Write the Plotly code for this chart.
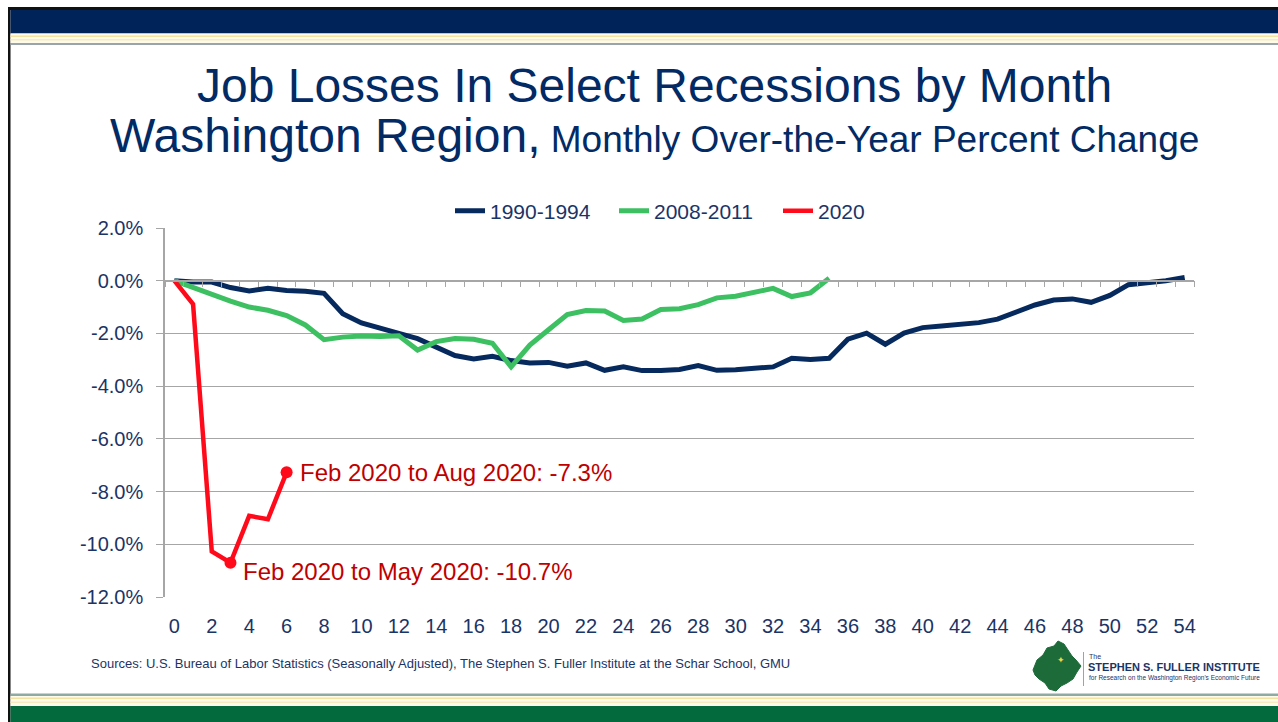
import plotly.graph_objects as go

# ---------------- data ----------------
months = list(range(0, 55))
s1990 = [0.00, -0.05, -0.05, -0.26, -0.39, -0.29, -0.37, -0.40, -0.48, -1.25,
         -1.60, -1.82, -2.00, -2.20, -2.51, -2.84, -2.97, -2.87, -3.03, -3.12,
         -3.10, -3.24, -3.12, -3.40, -3.27, -3.41, -3.41, -3.37, -3.22, -3.40,
         -3.38, -3.32, -3.27, -2.94, -2.99, -2.94, -2.22, -1.99, -2.41, -1.99,
         -1.78, -1.72, -1.65, -1.59, -1.46, -1.18, -0.92, -0.73, -0.69, -0.82,
         -0.56, -0.15, -0.08, 0.00, 0.12]
s2008 = [0.00, -0.26, -0.55, -0.77, -1.00, -1.12, -1.32, -1.68, -2.24, -2.14,
         -2.10, -2.12, -2.09, -2.63, -2.31, -2.19, -2.22, -2.37, -3.27, -2.44,
         -1.86, -1.28, -1.13, -1.15, -1.51, -1.45, -1.09, -1.06, -0.91, -0.65,
         -0.59, -0.46, -0.29, -0.60, -0.46, 0.09]
s2020 = [0.00, -0.89, -10.27, -10.70, -8.92, -9.05, -7.27]
series_names = ["1990-1994", "2008-2011", "2020"]
highlight_idx = [3, 6]
notes = {3: "Feb 2020 to May 2020: -10.7%", 6: "Feb 2020 to Aug 2020: -7.3%"}

ytick_vals = [-12, -10, -8, -6, -4, -2, 0, 2]
ytick_text = ["-12.0%", "-10.0%", "-8.0%", "-6.0%", "-4.0%", "-2.0%", "0.0%", "2.0%"]
xtick_vals = list(range(0, 55, 2))

# ---------------- styling ----------------
W, H = 1278, 722
L, R, T, B = 165, 1194, 228, 597
NAVY_TXT = "#1B3466"
TITLE = "#022A64"
NAVY = "#06295E"
GREEN = "#3CC062"
RED = "#FF0A1A"
DARKRED = "#C00000"
GRID = "#A6A6A6"
FONT = "Arial, Liberation Sans, sans-serif"

def px(x):
    return (x - L) / (R - L)

def py(y):
    return (B - y) / (B - T)

fig = go.Figure()
fig.add_trace(go.Scatter(x=months[:len(s1990)], y=s1990, name=series_names[0], mode="lines",
                         line=dict(color=NAVY, width=5)))
fig.add_trace(go.Scatter(x=months[:len(s2008)], y=s2008, name=series_names[1], mode="lines",
                         line=dict(color=GREEN, width=5)))
fig.add_trace(go.Scatter(x=months[:len(s2020)], y=s2020, name=series_names[2], mode="lines",
                         line=dict(color=RED, width=4.5)))
fig.add_trace(go.Scatter(x=[months[i] for i in highlight_idx], y=[s2020[i] for i in highlight_idx],
                         mode="markers", marker=dict(color=RED, size=12), showlegend=False))
# helper trace for the axis drawn at zero
fig.add_trace(go.Scatter(x=[], y=[], xaxis="x2", showlegend=False, hoverinfo="skip"))

for i, txt in notes.items():
    fig.add_annotation(x=months[i], y=s2020[i], text=txt, showarrow=False, xanchor="left",
                       yanchor="middle", xshift=11, yshift=(-9 if i == 3 else 0),
                       font=dict(size=24, color=DARKRED, family=FONT))

ymin, ymax = -12, 2
fig.update_layout(
    width=W, height=H,
    margin=dict(l=L, r=W - R, t=T, b=H - B, pad=0),
    paper_bgcolor="white", plot_bgcolor="white",
    font=dict(family=FONT, color=NAVY_TXT, size=20),
    showlegend=True,
    legend=dict(orientation="h", x=px(696), xanchor="center", y=py(211), yanchor="middle",
                font=dict(size=21, color=NAVY_TXT), bgcolor="rgba(0,0,0,0)",
                itemwidth=30, entrywidth=119, tracegroupgap=0),
    xaxis=dict(range=[-0.5, 54.5], tickvals=xtick_vals, showgrid=False, zeroline=False,
               showline=False, ticks="outside", ticklen=11, tickcolor="rgba(0,0,0,0)",
               tickfont=dict(size=20, color=NAVY_TXT), fixedrange=True),
    xaxis2=dict(range=[-0.5, 54.5], overlaying="x", anchor="free",
                position=(0 - ymin) / (ymax - ymin),
                tickvals=[k - 0.5 for k in range(0, 56)], ticks="outside", ticklen=6,
                tickcolor=GRID, showline=True, linecolor=GRID, linewidth=1.5,
                showticklabels=False, showgrid=False, zeroline=False),
    yaxis=dict(range=[ymin, ymax], tickvals=ytick_vals, ticktext=ytick_text,
               showgrid=True, gridcolor=GRID, gridwidth=1.2, zeroline=False,
               showline=True, linecolor=GRID, linewidth=1.5, ticks="outside", ticklen=7,
               tickcolor=GRID, ticklabelstandoff=9,
               tickfont=dict(size=20, color=NAVY_TXT)),
)

# ---------------- slide frame ----------------
shapes = []
def rect(x0, y0, x1, y1, color):
    shapes.append(dict(type="rect", xref="paper", yref="paper", x0=px(x0), x1=px(x1),
                       y0=py(y1), y1=py(y0), fillcolor=color, line=dict(width=0), layer="below"))

rect(8, 7, W, 10, "#111111")
rect(8, 7, 10.5, H, "#111111")
rect(10.5, 10, W, 33.5, "#00245A")
rect(10.5, 33.5, W, 43, "#FFFBEA")
rect(10.5, 35.5, W, 37, "#F3E2A0")
rect(10.5, 39, W, 40.5, "#F7EBBF")
rect(10.5, 43, W, 45, "#9AA4AC")
# bottom
rect(10.5, 693.5, W, 696, "#8FA9A3")
rect(10.5, 696, W, 706, "#FFFBEA")
rect(10.5, 697.5, W, 699, "#F3E2A0")
rect(10.5, 701.5, W, 703, "#F7EBBF")
rect(10.5, 706, W, H, "#026A3D")

# logo: map silhouette
blob = [(1033, 670), (1037, 660), (1043, 655), (1047, 648), (1054, 646), (1058, 641),
        (1064, 644), (1068, 650), (1072, 656), (1076, 660), (1081, 666), (1077, 672),
        (1073, 679), (1067, 683), (1061, 686), (1056, 691), (1049, 689), (1045, 683),
        (1039, 679), (1035, 675)]
path = "M " + " L ".join(f"{px(a)},{py(b)}" for a, b in blob) + " Z"
shapes.append(dict(type="path", xref="paper", yref="paper", path=path,
                   fillcolor="#1E6B3A", line=dict(color="#1E6B3A", width=1)))
shapes.append(dict(type="line", xref="paper", yref="paper", x0=px(1083.5), x1=px(1083.5),
                   y0=py(686), y1=py(652), line=dict(color="#9AA4AC", width=1)))
fig.update_layout(shapes=shapes)

fig.add_annotation(xref="paper", yref="paper", x=px(1061), y=py(660), text="✦", showarrow=False,
                   font=dict(size=9, color="#E8D84A"), xanchor="center", yanchor="middle")
fig.add_annotation(xref="paper", yref="paper", x=px(1087), y=py(656), text="The", showarrow=False,
                   font=dict(size=7, color="#1B3466", family=FONT), xanchor="left", yanchor="middle")
fig.add_annotation(xref="paper", yref="paper", x=px(1086), y=py(667), text="<b>STEPHEN S. FULLER INSTITUTE</b>",
                   showarrow=False, font=dict(size=11, color="#1B3466", family=FONT),
                   xanchor="left", yanchor="middle")
fig.add_annotation(xref="paper", yref="paper", x=px(1087), y=py(678),
                   text="for Research on the Washington Region's Economic Future", showarrow=False,
                   font=dict(size=6.5, color="#1B3466", family=FONT),
                   xanchor="left", yanchor="middle")

# titles
fig.add_annotation(xref="paper", yref="paper", x=px(654), y=py(86),
                   text="Job Losses In Select Recessions by Month", showarrow=False,
                   font=dict(size=48, color=TITLE, family=FONT), xanchor="center", yanchor="middle")
fig.add_annotation(xref="paper", yref="paper", x=px(654), y=py(135),
                   text="Washington Region,<span style='font-size:37px'> Monthly Over-the-Year Percent Change</span>",
                   showarrow=False, font=dict(size=48, color=TITLE, family=FONT),
                   xanchor="center", yanchor="middle")
fig.add_annotation(xref="paper", yref="paper", x=px(89), y=py(663),
                   text="Sources: U.S. Bureau of Labor Statistics (Seasonally Adjusted), The Stephen S. Fuller Institute at the Schar School, GMU",
                   showarrow=False, font=dict(size=13, color=NAVY_TXT, family=FONT),
                   xanchor="left", yanchor="middle")

fig.write_html("out.html", config={"displayModeBar": False},
               post_script="document.body.style.margin='0';document.body.style.overflow='hidden';")
